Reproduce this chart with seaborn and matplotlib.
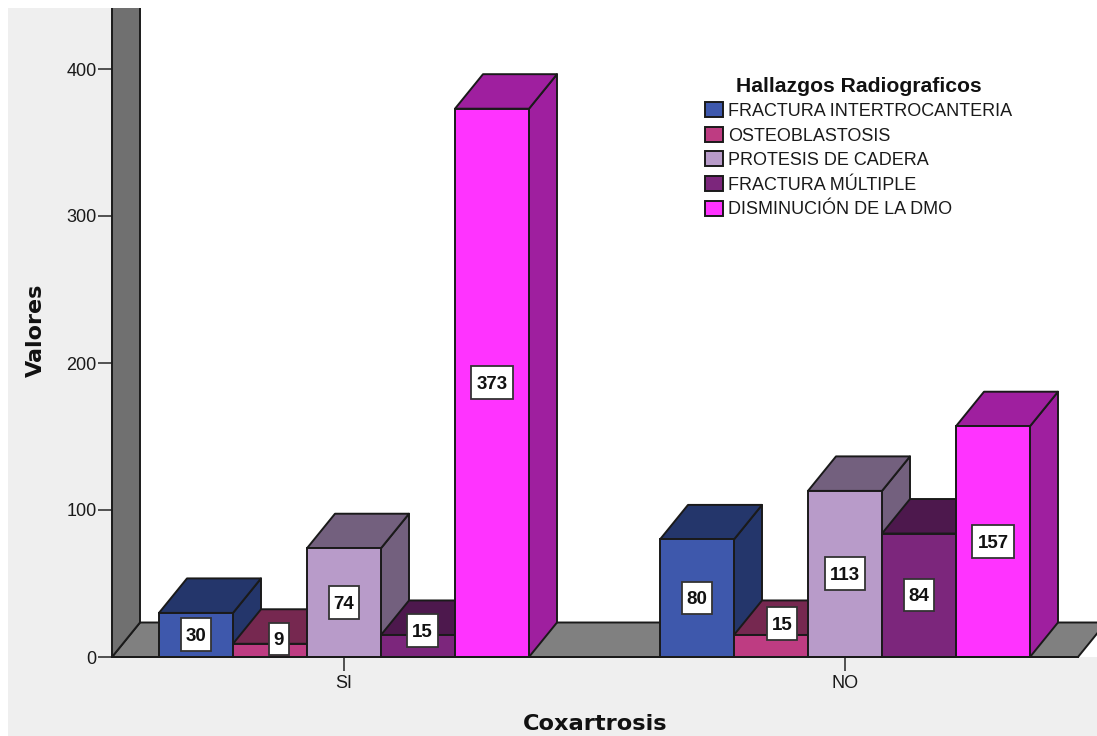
import matplotlib
matplotlib.use("Agg")
import matplotlib.pyplot as plt
from matplotlib.patches import Polygon, Rectangle
from matplotlib.path import Path
from matplotlib.transforms import Bbox, TransformedBbox
import pandas as pd
import seaborn as sns

# Values per group
categories = ["SI", "NO"]
hallazgos = ["FRACTURA INTERTROCANTERIA", "OSTEOBLASTOSIS", "PROTESIS DE CADERA",
             "FRACTURA MÚLTIPLE", "DISMINUCIÓN DE LA DMO"]
si_values = [30, 9, 74, 15, 373]
no_values = [80, 15, 113, 84, 157]

# Colours: front faces, then the shaded top and side faces
front_colors = ["#3E58AC", "#BE3C82", "#B89BC9", "#7C267C", "#FF33FF"]
shade_colors = ["#24366B", "#762850", "#73607E", "#4D184D", "#9F1F9F"]
label_shift_si = [(0, 0), (9, 11), (0, 0), (4.5, 15), (0, 0)]
label_shift_no = [(0, 0), (11, 22), (0, 0), (0, 0), (0, 0)]

W, H = 1097, 736
L, R, T, B = 112, 1078, 8, 657      # plot frame in pixels
PX_PER_VALUE = 1.47
PX_PER_CAT = 501
DEPTH_X, DEPTH_Y = 28, 34.5         # oblique depth in pixels
EDGE = "#1a1a1a"
TEXT = "#1a1a1a"
EDGE_LW = 1.4

sns.set_theme(style="white")
plt.rcParams["font.family"] = ["Liberation Sans", "DejaVu Sans"]

fig = plt.figure(figsize=(W / 100, H / 100), dpi=100, facecolor="#EFEFEF")
for x0, y0, w, h in [(0, 0, 8, H), (0, H - T, W, T), (L, H - B, W - L, B - T)]:
    fig.add_artist(Rectangle((x0 / W, y0 / H), w / W, h / H, transform=fig.transFigure,
                             fc="white", ec="none", zorder=-5))

ax = fig.add_axes([L / W, 1 - B / H, (R - L) / W, (B - T) / H])
ax.patch.set_alpha(0)

df = pd.DataFrame({
    "Coxartrosis": [c for c in categories for _ in hallazgos],
    "Hallazgos": hallazgos * len(categories),
    "Valores": si_values + no_values,
})
sns.barplot(data=df, x="Coxartrosis", y="Valores", hue="Hallazgos", hue_order=hallazgos,
            order=categories, palette=front_colors, saturation=1, width=0.7385, gap=0,
            errorbar=None, edgecolor=EDGE, linewidth=EDGE_LW, ax=ax)

x_min, x_max = (L - 344) / PX_PER_CAT, (R - 344) / PX_PER_CAT
y_max = (B - T) / PX_PER_VALUE
ax.set_xlim(x_min, x_max)
ax.set_ylim(0, y_max)
ddx, ddy = DEPTH_X / PX_PER_CAT, DEPTH_Y / PX_PER_VALUE

# Wall and floor behind the bars
poly_style = dict(ec=EDGE, lw=EDGE_LW, joinstyle="round", clip_on=False)
ax.add_patch(Polygon([(x_min, 0), (x_min + ddx, ddy), (x_max + ddx, ddy), (x_max, 0)],
                     fc="#808080", zorder=1, **poly_style))
wall = Polygon([(x_min, 0), (x_min + ddx, ddy), (x_min + ddx, y_max + 20), (x_min, y_max + 20)],
               fc="#707070", ec=EDGE, lw=EDGE_LW, joinstyle="round", zorder=1.1)
ax.add_patch(wall)
# The wall runs off the top of the frame, but its left edge stays whole
wall.set_clip_path(None)
wall.set_clip_box(TransformedBbox(Bbox([[x_min - 0.05, -10], [x_max, y_max]]), ax.transData))


def tall_box(x0, y0, width, height, mutation_size):
    """White label box, wider and taller than the text by a fixed pixel margin."""
    px, py_low, py_high = 5.0, 6.0, 9.5
    xs = [x0 - px, x0 + width + px, x0 + width + px, x0 - px, x0 - px]
    ys = [y0 - py_low, y0 - py_low, y0 + height + py_high, y0 + height + py_high, y0 - py_low]
    return Path(list(zip(xs, ys)), closed=True)


# Oblique faces, stacked left to right so each bar covers its neighbour's side
for h_idx, container in enumerate(ax.containers):
    for c_idx, bar in enumerate(container):
        order = 3 + c_idx * 5 + h_idx
        x0, w, v = bar.get_x(), bar.get_width(), bar.get_height()
        x1 = x0 + w
        bar.set_zorder(order + 0.2)
        ax.add_patch(Polygon([(x1, 0), (x1 + ddx, ddy), (x1 + ddx, v + ddy), (x1, v)],
                             fc=shade_colors[h_idx], zorder=order, **poly_style))
        ax.add_patch(Polygon([(x0, v), (x0 + ddx, v + ddy), (x1 + ddx, v + ddy), (x1, v)],
                             fc=shade_colors[h_idx], zorder=order + 0.1, **poly_style))
        shift = (label_shift_si if c_idx == 0 else label_shift_no)[h_idx]
        ax.annotate(f"{v:.0f}", (x0 + w / 2, v / 2),
                    xytext=(shift[0] * 0.72, (shift[1] - 1.5) * 0.72), textcoords="offset points",
                    ha="center", va="center", fontsize=13.5, fontweight="bold", color="#111111",
                    zorder=100, annotation_clip=False,
                    bbox=dict(boxstyle=tall_box, fc="white", ec="#333333", lw=1.3))

# Axes furniture
sns.despine(ax=ax, top=True, right=True, left=True, bottom=False)
ax.spines["bottom"].set_color(EDGE)
ax.spines["bottom"].set_linewidth(EDGE_LW)
ax.spines["bottom"].set_zorder(200)
ax.set_yticks([0, 100, 200, 300, 400])
ax.tick_params(axis="both", which="major", length=10, width=1.3, color="#444444",
               labelsize=13, labelcolor=TEXT, bottom=True, left=True, pad=1)
ax.tick_params(axis="x", pad=3)
ax.set_xlabel("Coxartrosis", fontsize=16.2, fontweight="bold", family="DejaVu Sans", color="#111111")
ax.set_ylabel("Valores", fontsize=16, fontweight="bold", family="DejaVu Sans", color="#111111")
ax.xaxis.set_label_coords((595 - L) / (R - L), -(724 - B) / (B - T), transform=ax.transAxes)
ax.xaxis.label.set_va("center")
ax.yaxis.set_label_coords((36 - L) / (R - L), (B - 330) / (B - T), transform=ax.transAxes)
ax.yaxis.label.set_va("center")

handles, labels = ax.get_legend_handles_labels()
legend = ax.legend(handles, labels, title="Hallazgos Radiograficos", loc="upper left",
                   bbox_to_anchor=(705 / W, 1 - 77 / H), bbox_transform=fig.transFigure,
                   frameon=False, fontsize=13,
                   title_fontproperties={"weight": "bold", "size": 15.2, "family": "Liberation Sans"},
                   handlelength=1.0, handleheight=0.9, handletextpad=0.28, labelspacing=0.38,
                   borderpad=0, borderaxespad=0, labelcolor=TEXT)
legend.get_title().set_color("#111111")
legend.set_zorder(300)
# A little more room between the legend title and its first row
legend._legend_box.sep = 4.5

fig.savefig("out.png", dpi=100, facecolor=fig.get_facecolor())
